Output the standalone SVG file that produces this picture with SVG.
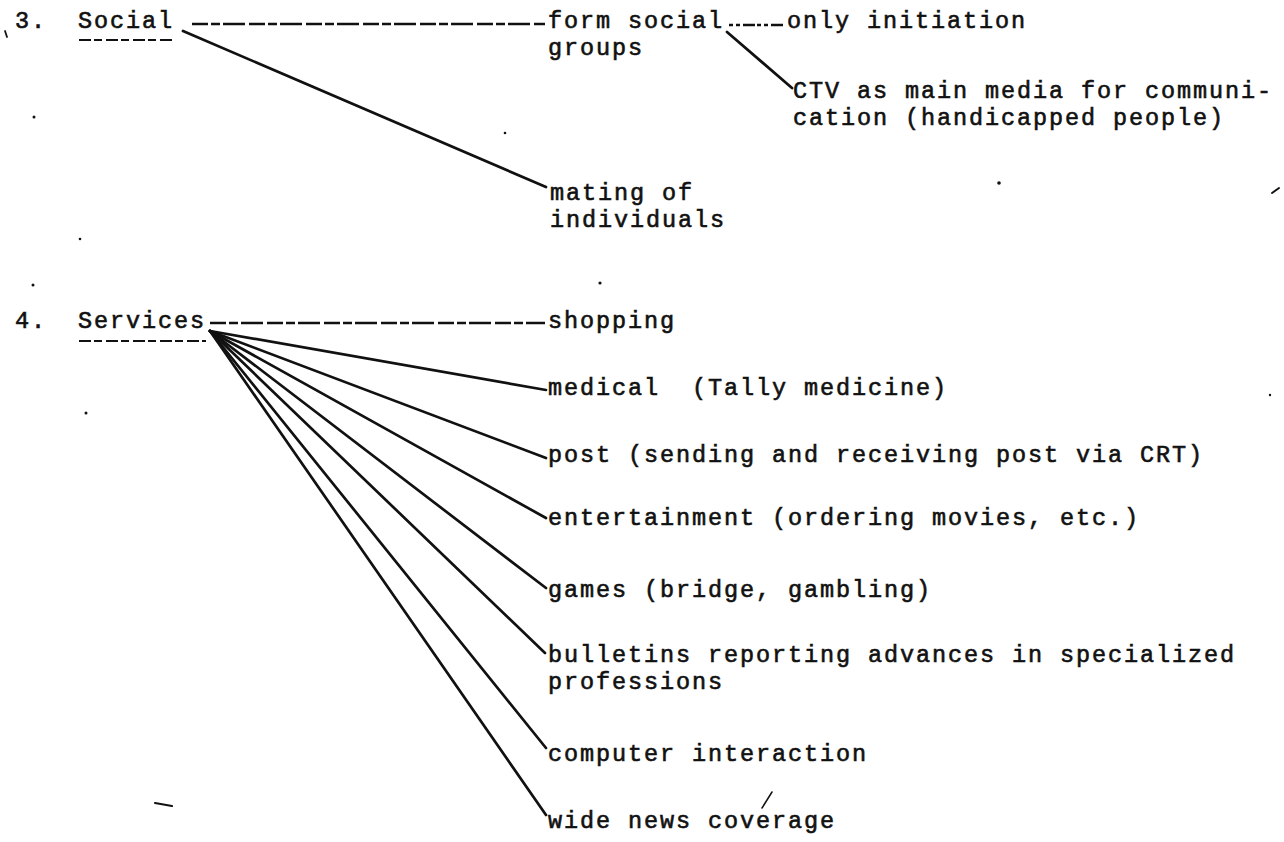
<svg xmlns="http://www.w3.org/2000/svg" width="1284" height="842" viewBox="0 0 1284 842">
<style>
text{font-family:"Liberation Mono","Courier New",monospace;font-size:23.5px;letter-spacing:1.9px;fill:#111;stroke:#111;stroke-width:0.6;white-space:pre}
.ln{stroke:#111;stroke-width:2.7;fill:none;stroke-linecap:round}
.dash{stroke:#111;stroke-width:2.4;fill:none;stroke-dasharray:16 3 9 3 22 4}
.ul{stroke:#111;stroke-width:2.2;fill:none;stroke-dasharray:12 3 8 4}
.spk{fill:#111}
</style>
<rect width="1284" height="842" fill="#ffffff"/>
<g id="connectors">
<path class="dash" d="M192 24 L545 24"/>
<path class="ln" d="M183 31 L546 187"/>
<path class="dash" d="M729 25 L785 25" style="stroke-dasharray:4 3 4 3 12 2"/>
<path class="ln" d="M727 32 L792 88"/>
<path class="dash" d="M210 323 L545 323"/>
<path class="ln" d="M210 331 L546 390"/>
<path class="ln" d="M210 331 L546 458"/>
<path class="ln" d="M210 331 L546 518"/>
<path class="ln" d="M210 331 L546 588"/>
<path class="ln" d="M210 331 L545 653"/>
<path class="ln" d="M210 331 L546 748"/>
<path class="ln" d="M210 331 L546 815"/>
</g>
<g id="social">
<text x="15" y="28">3.</text>
<text x="78" y="28">Social</text>
<path class="ul" d="M79 40 L174 40"/>
</g>
<g id="form-social"><text x="548" y="28">form social<tspan x="548" dy="26.7">groups</tspan></text></g>
<g id="only-initiation"><text x="787" y="28">only initiation</text></g>
<g id="ctv"><text x="793" y="98">CTV as main media for communi-<tspan x="793" dy="26.7">cation (handicapped people)</tspan></text></g>
<g id="mating"><text x="550" y="200">mating of<tspan x="550" dy="26.7">individuals</tspan></text></g>
<g id="services">
<text x="15" y="328">4.</text>
<text x="78" y="328">Services</text>
<path class="ul" d="M79 341 L206 341"/>
</g>
<g id="shopping"><text x="548" y="328">shopping</text></g>
<g id="medical"><text x="548" y="395">medical  (Tally medicine)</text></g>
<g id="post"><text x="548" y="462">post (sending and receiving post via CRT)</text></g>
<g id="entertainment"><text x="548" y="525">entertainment (ordering movies, etc.)</text></g>
<g id="games"><text x="548" y="597">games (bridge, gambling)</text></g>
<g id="bulletins"><text x="548" y="662">bulletins reporting advances in specialized<tspan x="548" dy="26.7">professions</tspan></text></g>
<g id="computer"><text x="548" y="761">computer interaction</text></g>
<g id="news"><text x="548" y="828">wide news coverage</text></g>
<g id="specks">
<circle class="spk" cx="600" cy="283" r="1.6"/>
<circle class="spk" cx="34" cy="117" r="1.5"/>
<circle class="spk" cx="80" cy="239" r="1.3"/>
<circle class="spk" cx="33" cy="285" r="1.5"/>
<circle class="spk" cx="86" cy="413" r="1.5"/>
<circle class="spk" cx="505" cy="133" r="1.3"/>
<circle class="spk" cx="999" cy="183" r="1.8"/>
<circle class="spk" cx="1270" cy="395" r="1.2"/>
<path class="ln" d="M5 31 L7 37" style="stroke-width:1.8"/>
<path class="ln" d="M1272 193 L1279 188" style="stroke-width:2"/>
<path class="ln" d="M762 808 L772 792" style="stroke-width:1.5"/>
<path class="ln" d="M155 803 L172 806" style="stroke-width:2.2"/>
</g>
</svg>
